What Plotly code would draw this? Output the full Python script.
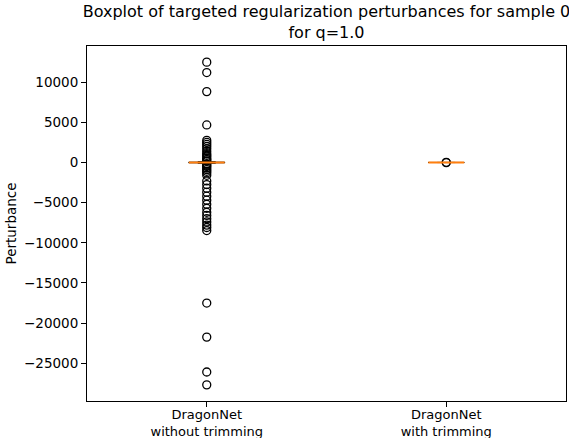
import plotly.graph_objects as go

# ---- data ----
categories = ["DragonNet<br>without trimming", "DragonNet<br>with trimming"]
positions = [1, 2]
q1_vals = [-40, -3]
median_vals = [0, 0]
q3_vals = [40, 3]
lower_fence = [-100, -8]
upper_fence = [100, 8]
outliers_without = [12500, 11200, 8830, 4680,
                    2750, 2500, 2250, 2000, 1700, 1400, 1100, 900, 700, 500, 350, 200,
                    -200, -350, -500, -700, -900, -1100, -1300, -1600,
                    -2300, -2750, -3200, -3700, -4200, -4700, -5200, -5700, -6200,
                    -6600, -7000, -7400, -7800, -8100, -8480,
                    -17510, -21750, -26100, -27700]
outliers_with = [20, -15]
y_ticks = [10000, 5000, 0, -5000, -10000, -15000, -20000, -25000]

box_width = 0.15
font = "DejaVu Sans"

fig = go.Figure()
for i, pos in enumerate(positions):
    fig.add_trace(go.Box(
        x=[pos], q1=[q1_vals[i]], median=[median_vals[i]], q3=[q3_vals[i]],
        lowerfence=[lower_fence[i]], upperfence=[upper_fence[i]],
        width=box_width, line=dict(color="black", width=1),
        fillcolor="rgba(0,0,0,0)", whiskerwidth=0.5, boxpoints=False,
        showlegend=False, hoverinfo="skip"))

for pos, outs in zip(positions, [outliers_without, outliers_with]):
    fig.add_trace(go.Scatter(
        x=[pos] * len(outs), y=outs, mode="markers",
        marker=dict(symbol="circle-open", size=8, color="black", line=dict(width=1.3)),
        showlegend=False, hoverinfo="skip"))

for pos, med in zip(positions, median_vals):
    fig.add_trace(go.Scatter(
        x=[pos - box_width / 2, pos + box_width / 2], y=[med, med], mode="lines",
        line=dict(color="#ff7f0e", width=2), showlegend=False, hoverinfo="skip"))

all_vals = outliers_without + outliers_with
lo, hi = min(all_vals), max(all_vals)
pad = 0.05 * (hi - lo)

fig.update_layout(
    width=569, height=438,
    margin=dict(l=87, r=3, t=46, b=37, autoexpand=False),
    paper_bgcolor="white", plot_bgcolor="white",
    font=dict(family=font, size=13.5, color="black"),
    title=dict(text="Boxplot of targeted regularization perturbances for sample 0<br>for q=1.0",
               x=(87 + 566) / 2 / 569, xanchor="center", y=1 - 17 / 438, yanchor="top",
               font=dict(family=font, size=16, color="black")),
    xaxis=dict(range=[0.5, 2.5], tickvals=positions, ticktext=categories,
               showgrid=False, zeroline=False, showline=True, linecolor="black",
               linewidth=1, mirror=True, ticks="outside", ticklen=5, tickcolor="black",
               tickfont=dict(size=13), automargin=False, ticklabelstandoff=-4),
    yaxis=dict(range=[lo - pad, hi + pad], tickvals=y_ticks,
               ticktext=[f"{v}".replace("-", "\u2212") for v in y_ticks],
               showgrid=False, zeroline=False, showline=True, linecolor="black",
               linewidth=1, mirror=True, ticks="outside", ticklen=5, tickcolor="black",
               tickfont=dict(size=13.5), automargin=False,
               title=dict(text="Perturbance", standoff=4, font=dict(size=13.5))),
)

fig.write_html("out.html", config={"displayModeBar": False},
               post_script="document.body.style.margin='0';")
